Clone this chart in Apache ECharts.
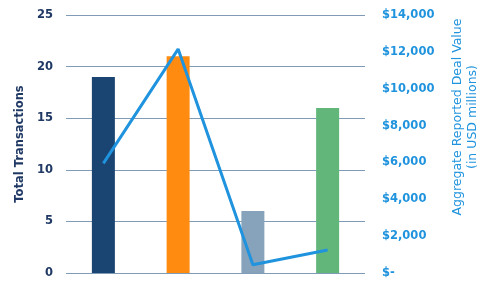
<!DOCTYPE html>
<html>
<head>
<meta charset="utf-8">
<script src="https://cdn.jsdelivr.net/npm/echarts@6/dist/echarts.min.js"></script>
<style>html,body{margin:0;padding:0;background:#fff}#c{width:493px;height:288px}</style>
</head>
<body>
<div id="c"></div>
<script>
var categories = ['A', 'B', 'C', 'D'];
var transactions = [19, 21, 6, 16];
var dealValue = [5950, 12150, 450, 1250];
var leftTicks = [0, 25, 5];
var rightTicks = [0, 14000, 2000];
var barColors = ['#1a4472', '#ff8c10', '#87a2bb', '#62b67a'];

var FONT = 'Verdana, "DejaVu Sans", sans-serif';
var chart = echarts.init(document.getElementById('c'));
chart.setOption({
  animation: false,
  grid: { left: 66, right: 128, top: 15, bottom: 15 },
  xAxis: {
    type: 'category', data: categories,
    axisLine: { show: false }, axisTick: { show: false }, axisLabel: { show: false }
  },
  yAxis: [{
    type: 'value', min: leftTicks[0], max: leftTicks[1], interval: leftTicks[2],
    name: 'Total Transactions', nameLocation: 'middle', nameGap: 30, nameRotate: 90,
    nameTextStyle: { color: '#1f3864', fontFamily: FONT, fontWeight: 'bold', fontSize: 11.5 },
    axisLine: { show: false }, axisTick: { show: false },
    axisLabel: { color: '#1f3864', fontFamily: FONT, fontWeight: 'bold', fontSize: 11.5, margin: 13 },
    splitLine: { lineStyle: { color: '#7f9bb5', width: 1 } }
  }, {
    type: 'value', min: rightTicks[0], max: rightTicks[1], interval: rightTicks[2], position: 'right',
    name: 'Aggregate Reported Deal Value\n(in USD millions)', nameLocation: 'middle', nameGap: 85, nameRotate: 90,
    nameTextStyle: { color: '#1f93dd', fontFamily: FONT, fontSize: 12.5, lineHeight: 15, padding: [0, 0, 0, 54] },
    axisLine: { show: false }, axisTick: { show: false },
    axisLabel: {
      color: '#1f93dd', fontFamily: FONT, fontWeight: 'bold', fontSize: 11.5, margin: 17,
      formatter: function (v) { return v === 0 ? '$-' : '$' + v.toLocaleString('en-US'); }
    },
    splitLine: { show: false }
  }],
  series: [{
    type: 'bar', barWidth: 23,
    data: transactions.map(function (v, i) { return { value: v, itemStyle: { color: barColors[i] } }; })
  }, {
    type: 'line', yAxisIndex: 1, data: dealValue, showSymbol: false, symbol: 'none',
    lineStyle: { color: '#1f93dd', width: 3 }
  }]
});
</script>
</body>
</html>
